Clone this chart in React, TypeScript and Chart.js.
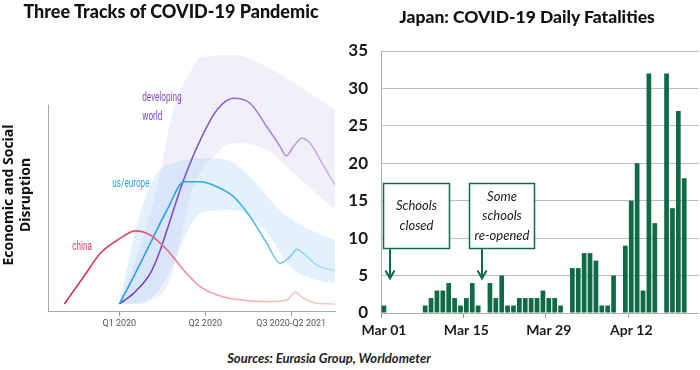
import React, { useEffect, useRef } from "react";
import { Chart, registerables } from "chart.js";

Chart.register(...registerables);

// ---------- Right chart: Japan daily fatalities ----------
const dates = [
  "Mar 01", "Mar 02", "Mar 03", "Mar 04", "Mar 05", "Mar 06", "Mar 07", "Mar 08", "Mar 09", "Mar 10",
  "Mar 11", "Mar 12", "Mar 13", "Mar 14", "Mar 15", "Mar 16", "Mar 17", "Mar 18", "Mar 19", "Mar 20",
  "Mar 21", "Mar 22", "Mar 23", "Mar 24", "Mar 25", "Mar 26", "Mar 27", "Mar 28", "Mar 29", "Mar 30",
  "Mar 31", "Apr 01", "Apr 02", "Apr 03", "Apr 04", "Apr 05", "Apr 06", "Apr 07", "Apr 08", "Apr 09",
  "Apr 10", "Apr 11", "Apr 12", "Apr 13", "Apr 14", "Apr 15", "Apr 16", "Apr 17", "Apr 18", "Apr 19",
  "Apr 20", "Apr 21", "Apr 22", "Apr 23",
];
const fatalities = [
  1, 0, 0, 0, 0, 0, 0, 1, 2, 3, 3, 4, 2, 1, 2, 4, 1, 0, 4, 2, 5, 1, 1, 2, 2, 2, 2, 3, 2, 2, 1, 0,
  6, 6, 8, 8, 7, 1, 1, 5, 0, 9, 15, 20, 3, 32, 12, 0, 32, 14, 27, 18,
];
const dateTicks = ["Mar 01", "Mar 15", "Mar 29", "Apr 12"];
const yMax = 35;
const yStep = 5;

const notes = [
  { lines: ["Schools", "closed"], x0: -0.2, x1: 11.0, yTop: 17.4, yBot: 8.7, arrowX: 1.0, arrowTip: 4.6 },
  { lines: ["Some", "schools", "re-opened"], x0: 14.4, x1: 25.5, yTop: 17.4, yBot: 8.7, arrowX: 16.6, arrowTip: 4.6 },
];

// ---------- Left chart: three tracks ----------
const quarterTicks = [0, 1, 2];
const quarterLabels = ["Q1 2020", "Q2 2020", "Q3 2020-Q2 2021"];

const chinaTrack = [
  { x: -0.64, y: 2.7 }, { x: -0.415, y: 13.1 }, { x: -0.221, y: 22.1 }, { x: 0.012, y: 27.9 },
  { x: 0.186, y: 30.7 }, { x: 0.36, y: 29.1 }, { x: 0.555, y: 23.4 }, { x: 0.748, y: 15.7 },
  { x: 0.942, y: 9.3 }, { x: 1.136, y: 6.1 }, { x: 1.329, y: 4.6 }, { x: 1.717, y: 3.6 },
  { x: 1.95, y: 4.2 }, { x: 2.047, y: 7.2 }, { x: 2.143, y: 4.9 }, { x: 2.299, y: 3.0 }, { x: 2.51, y: 2.7 },
];
const usEuropeTrack = [
  { x: 0, y: 2.7 }, { x: 0.166, y: 13.1 }, { x: 0.36, y: 25.9 }, { x: 0.555, y: 38.7 },
  { x: 0.756, y: 49.5 }, { x: 0.942, y: 49.5 }, { x: 1.136, y: 47.6 }, { x: 1.329, y: 43.8 },
  { x: 1.523, y: 36.1 }, { x: 1.717, y: 25.9 }, { x: 1.872, y: 18.3 }, { x: 1.988, y: 20.8 },
  { x: 2.066, y: 23.6 }, { x: 2.143, y: 22.1 }, { x: 2.299, y: 17.6 }, { x: 2.51, y: 15.4 },
];
const developingTrack = [
  { x: 0, y: 2.7 }, { x: 0.166, y: 6.8 }, { x: 0.36, y: 14.4 }, { x: 0.477, y: 23.4 },
  { x: 0.593, y: 34.9 }, { x: 0.748, y: 50.2 }, { x: 0.942, y: 65.5 }, { x: 1.136, y: 77.0 },
  { x: 1.329, y: 81.5 }, { x: 1.523, y: 79.6 }, { x: 1.717, y: 70.6 }, { x: 1.872, y: 63.0 },
  { x: 1.942, y: 59.4 }, { x: 2.027, y: 63.0 }, { x: 2.124, y: 66.2 }, { x: 2.221, y: 64.3 },
  { x: 2.337, y: 57.9 }, { x: 2.51, y: 48.3 },
];
const usEuropeUpper = [
  { x: 0, y: 2.7 }, { x: 0.093, y: 16.9 }, { x: 0.244, y: 37.5 }, { x: 0.442, y: 52.9 },
  { x: 0.674, y: 57.1 }, { x: 0.942, y: 58.6 }, { x: 1.256, y: 57.9 }, { x: 1.523, y: 51.3 },
  { x: 1.907, y: 37.5 }, { x: 2.302, y: 29.9 }, { x: 2.51, y: 27.2 },
];
const usEuropeLower = [
  { x: 0, y: 2.7 }, { x: 0.244, y: 2.7 }, { x: 0.558, y: 13.0 }, { x: 0.744, y: 27.2 },
  { x: 0.942, y: 37.5 }, { x: 1.326, y: 38.7 }, { x: 1.721, y: 29.9 }, { x: 1.988, y: 16.9 },
  { x: 2.302, y: 11.9 }, { x: 2.51, y: 10.7 },
];
const developingUpper = [
  { x: 0, y: 2.7 }, { x: 0.163, y: 16.9 }, { x: 0.442, y: 47.5 }, { x: 0.628, y: 77.0 },
  { x: 0.86, y: 93.5 }, { x: 0.942, y: 97.3 }, { x: 1.326, y: 98.1 }, { x: 1.721, y: 93.5 },
  { x: 2.105, y: 85.8 }, { x: 2.51, y: 77.0 },
];
const developingLower = [
  { x: 0, y: 2.7 }, { x: 0.36, y: 4.2 }, { x: 0.593, y: 11.9 }, { x: 0.709, y: 27.2 },
  { x: 0.86, y: 47.5 }, { x: 1.14, y: 60.5 }, { x: 1.326, y: 64.4 }, { x: 1.721, y: 61.7 },
  { x: 1.988, y: 54.0 }, { x: 2.51, y: 38.7 },
];

const trackLabels = [
  { lines: ["developing", "world"], x: 0.267, y: [81.7, 74.4], color: "#7b4bc4" },
  { lines: ["us/europe"], x: -0.081, y: [48.7], color: "#2aa6e1" },
  { lines: ["china"], x: -0.547, y: [24.5], color: "#d8405f" },
];

const GREEN = "#0f6b46";

function fade(stops: [number, string][]) {
  return (ctx: any) => {
    const chart = ctx.chart;
    if (!chart.chartArea) return stops[0][1];
    const xs = chart.scales.x;
    const a = xs.getPixelForValue(xs.min);
    const b = xs.getPixelForValue(xs.max);
    const g = chart.ctx.createLinearGradient(a, 0, b, 0);
    const span = xs.max - xs.min;
    stops.forEach(([u, c]) => g.addColorStop(Math.min(1, Math.max(0, (u - xs.min) / span)), c));
    return g;
  };
}

const leftDecor = {
  id: "leftDecor",
  afterDatasetsDraw(chart: any) {
    const { ctx, scales, chartArea } = chart;
    const xs = scales.x, ys = scales.y;
    ctx.save();
    // y axis line
    ctx.strokeStyle = "#a8a8a8";
    ctx.lineWidth = 1;
    ctx.beginPath();
    ctx.moveTo(chartArea.left + 0.5, ys.getPixelForValue(79));
    ctx.lineTo(chartArea.left + 0.5, chartArea.bottom);
    ctx.stroke();
    // series labels (condensed)
    ctx.font = "12px Roboto";
    ctx.textBaseline = "middle";
    ctx.textAlign = "left";
    trackLabels.forEach((l) => {
      ctx.fillStyle = l.color;
      l.lines.forEach((t, i) => {
        const px = xs.getPixelForValue(l.x);
        const py = ys.getPixelForValue(l.y[i]);
        ctx.save();
        ctx.translate(px, py);
        ctx.scale(0.68, 1);
        ctx.fillText(t, 0, 0);
        ctx.restore();
      });
    });
    // y title
    ctx.fillStyle = "#111";
    ctx.font = "bold 14px 'Open Sans'";
    ctx.textAlign = "center";
    ctx.save();
    ctx.translate(9, 195);
    ctx.rotate(-Math.PI / 2);
    ctx.fillText("Economic and Social", 0, 0);
    ctx.restore();
    ctx.save();
    ctx.translate(26, 195);
    ctx.rotate(-Math.PI / 2);
    ctx.fillText("Disruption", 0, 0);
    ctx.restore();
    ctx.restore();
  },
};

const notesPlugin = {
  id: "notes",
  afterDatasetsDraw(chart: any) {
    const { ctx, scales } = chart;
    const xs = scales.x, ys = scales.y;
    ctx.save();
    notes.forEach((n) => {
      const l = Math.round(xs.getPixelForValue(n.x0)) + 0.5;
      const r = Math.round(xs.getPixelForValue(n.x1)) + 0.5;
      const t = Math.round(ys.getPixelForValue(n.yTop)) + 0.5;
      const b = Math.round(ys.getPixelForValue(n.yBot)) + 0.5;
      ctx.fillStyle = "#fff";
      ctx.fillRect(l, t, r - l, b - t);
      ctx.strokeStyle = GREEN;
      ctx.lineWidth = 1.5;
      ctx.strokeRect(l, t, r - l, b - t);
      ctx.fillStyle = "#1a1a1a";
      ctx.font = "italic 13px Lato";
      ctx.textAlign = "center";
      ctx.textBaseline = "middle";
      const cy = (t + b) / 2;
      const lh = 19.5;
      n.lines.forEach((s, i) => {
        ctx.fillText(s, (l + r) / 2, cy + (i - (n.lines.length - 1) / 2) * lh);
      });
      const ax = Math.round(xs.getPixelForValue(n.arrowX));
      const tip = ys.getPixelForValue(n.arrowTip);
      ctx.strokeStyle = GREEN;
      ctx.lineWidth = 2;
      ctx.beginPath();
      ctx.moveTo(ax, b);
      ctx.lineTo(ax, tip);
      ctx.stroke();
      ctx.beginPath();
      ctx.moveTo(ax - 4.5, tip - 8);
      ctx.lineTo(ax, tip);
      ctx.lineTo(ax + 4.5, tip - 8);
      ctx.stroke();
    });
    ctx.restore();
  },
};

export default function App() {
  const leftRef = useRef<HTMLCanvasElement>(null);
  const rightRef = useRef<HTMLCanvasElement>(null);

  useEffect(() => {
    const lineBase = { pointRadius: 0, borderWidth: 1.6, cubicInterpolationMode: "monotone", fill: false };
    const bandEdge = { pointRadius: 0, borderWidth: 0, cubicInterpolationMode: "monotone", fill: false, borderColor: "rgba(0,0,0,0)" };

    const left = new Chart(leftRef.current!, {
      type: "line",
      data: {
        datasets: [
          { ...lineBase, data: chinaTrack, order: 0, borderColor: fade([[-0.64, "#c7294a"], [0.3, "#e05a6e"], [1.0, "#f2a0a6"], [2.5, "#f8cccc"]]) } as any,
          { ...lineBase, data: usEuropeTrack, order: 0, borderColor: fade([[0, "#1f9fe0"], [1.2, "#33aae6"], [2.5, "#b8def4"]]) } as any,
          { ...lineBase, data: developingTrack, order: 0, borderColor: fade([[0, "#6a3cbf"], [1.2, "#8a62cc"], [2.5, "#c9bae6"]]) } as any,
          { ...bandEdge, data: usEuropeLower, order: 1 } as any,
          { ...bandEdge, data: usEuropeUpper, order: 1, fill: "-1", backgroundColor: "rgba(160,210,245,0.3)" } as any,
          { ...bandEdge, data: developingLower, order: 2 } as any,
          { ...bandEdge, data: developingUpper, order: 2, fill: "-1", backgroundColor: "rgba(195,178,232,0.22)" } as any,
        ],
      },
      options: {
        animation: false,
        responsive: true,
        maintainAspectRatio: false,
        layout: { padding: { top: 50, left: 48, right: 10, bottom: 0 } },
        plugins: { legend: { display: false }, tooltip: { enabled: false } },
        scales: {
          x: {
            type: "linear",
            min: -0.83,
            max: 2.51,
            afterBuildTicks: (s: any) => {
              s.ticks = quarterTicks.map((v) => ({ value: v }));
            },
            afterFit: (s: any) => {
              s.height = 29;
            },
            ticks: {
              autoSkip: false,
              maxRotation: 0,
              padding: 2,
              color: "#555",
              font: { family: "'Liberation Sans Narrow', Roboto", size: 9 },
              callback: (v: any) => quarterLabels[quarterTicks.indexOf(Number(v))] ?? "",
            },
            grid: { drawOnChartArea: false, drawTicks: true, tickLength: 5, color: "#999" },
            border: { color: "#a8a8a8", width: 1 },
          },
          y: { display: false, min: 0, max: 100 },
        },
      } as any,
      plugins: [leftDecor],
    });

    const right = new Chart(rightRef.current!, {
      type: "bar",
      data: {
        labels: dates,
        datasets: [
          {
            data: fatalities,
            backgroundColor: GREEN,
            barPercentage: 0.8,
            categoryPercentage: 1,
          },
        ],
      },
      options: {
        animation: false,
        responsive: true,
        maintainAspectRatio: false,
        layout: { padding: { top: 51, left: 0, right: 0, bottom: 0 } },
        plugins: { legend: { display: false }, tooltip: { enabled: false } },
        scales: {
          x: {
            type: "category",
            offset: true,
            afterFit: (s: any) => {
              s.height = 32;
            },
            ticks: {
              autoSkip: false,
              maxRotation: 0,
              minRotation: 0,
              padding: 4,
              color: "#1a1a1a",
              font: { family: "Lato", weight: "bold", size: 14 },
              callback: (_v: any, i: number) => (dateTicks.includes(dates[i]) ? dates[i] : ""),
            },
            grid: {
              offset: true,
              drawOnChartArea: false,
              drawTicks: true,
              tickLength: 5,
              color: (c: any) => (c.index % 14 === 0 ? "#9a9a9a" : "rgba(0,0,0,0)"),
            },
            border: { color: "#b0b0b0", width: 1 },
          },
          y: {
            min: 0,
            max: yMax,
            afterFit: (s: any) => {
              s.width = 41;
            },
            ticks: {
              stepSize: yStep,
              padding: 13,
              color: "#1a1a1a",
              font: { family: "Lato", weight: "bold", size: 17 },
            },
            grid: { drawTicks: false, color: "#bdbdbd", lineWidth: 1 },
            border: { color: "#b0b0b0", width: 1 },
          },
        },
      } as any,
      plugins: [notesPlugin],
    });

    return () => {
      left.destroy();
      right.destroy();
    };
  }, []);

  return (
    <div style={{ position: "fixed", left: 0, top: 0, width: 700, height: 370, background: "#fff", overflow: "hidden" }}>
      <div style={{ position: "absolute", left: 0, top: 0, width: 345, height: 340 }}>
        <canvas ref={leftRef} />
      </div>
      <div style={{ position: "absolute", left: 340, top: 0, width: 360, height: 345 }}>
        <canvas ref={rightRef} />
      </div>
      <div
        style={{
          position: "absolute", left: 0, top: 0, width: 342, height: 24, lineHeight: "24px",
          textAlign: "center", font: "900 18px Lato", color: "#111", whiteSpace: "nowrap",
        }}
      >
        Three Tracks of COVID-19 Pandemic
      </div>
      <div
        style={{
          position: "absolute", left: 354, top: 6, width: 346, height: 24, lineHeight: "24px",
          textAlign: "center", font: "900 17.5px Lato", color: "#111", whiteSpace: "nowrap",
        }}
      >
        Japan: COVID-19 Daily Fatalities
      </div>
      <div
        style={{
          position: "absolute", left: 129, top: 350, width: 400, height: 20, lineHeight: "20px",
          textAlign: "center", font: "italic bold 13px Lato", color: "#222", whiteSpace: "nowrap",
        }}
      >
        Sources: Eurasia Group, Worldometer
      </div>
    </div>
  );
}
